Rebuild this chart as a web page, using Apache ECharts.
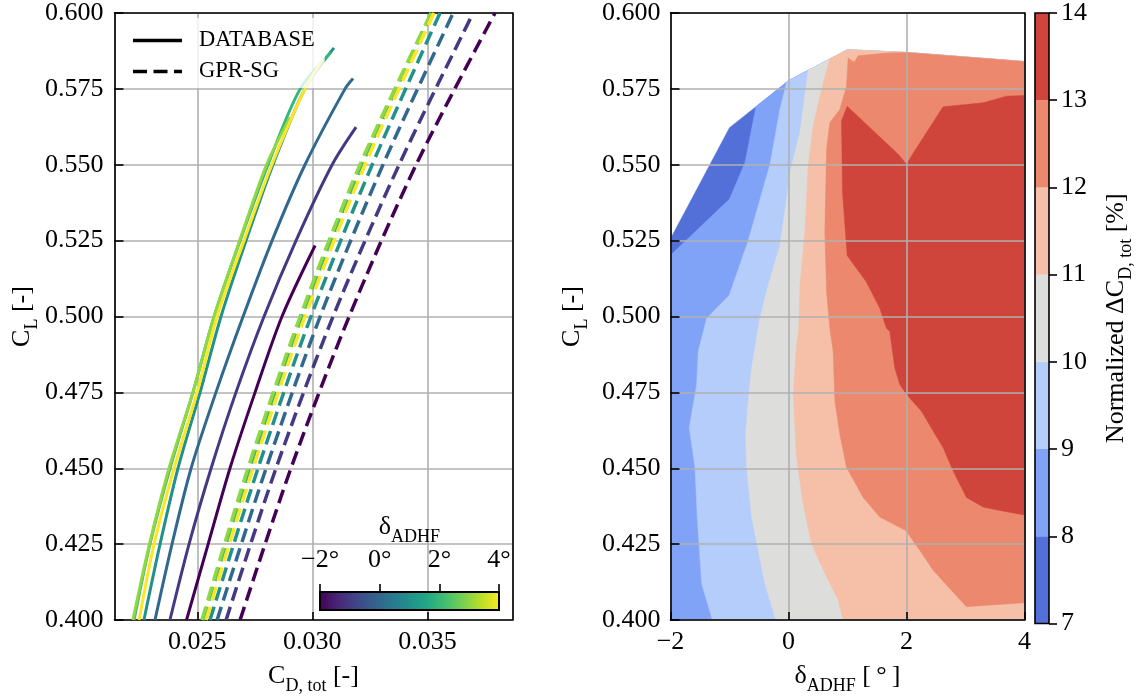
<!DOCTYPE html>
<html>
<head>
<meta charset="utf-8">
<script src="https://cdn.jsdelivr.net/npm/echarts@6/dist/echarts.min.js"></script>
<style>
html, body { margin: 0; padding: 0; background: #fff; }
#chart { width: 1136px; height: 700px; }
</style>
</head>
<body>
<div id="chart"></div>
<script>
const FONT = 'Liberation Serif';

// Flap deflection values and their viridis colours
const deltaValues = [-2, -1, 0, 1, 2, 3, 4];
const deltaColors = ['#440154', '#443983', '#31688E', '#21918C', '#35B779', '#8FD744', '#FDE725'];

// DATABASE polars: [C_D,tot, C_L]
const dbM2 = [[0.02453, 0.400], [0.02547, 0.425], [0.02642, 0.450], [0.02751, 0.475], [0.02868, 0.500], [0.03012, 0.5234]];
const dbM1 = [[0.02381, 0.400], [0.02464, 0.425], [0.02560, 0.450], [0.02668, 0.475], [0.02790, 0.500], [0.02929, 0.525], [0.03086, 0.550], [0.03190, 0.5624]];
const db0  = [[0.02316, 0.400], [0.02390, 0.425], [0.02473, 0.450], [0.02581, 0.475], [0.02699, 0.500], [0.02825, 0.525], [0.02968, 0.550], [0.03142, 0.575], [0.03177, 0.5784]];
const db1  = [[0.02268, 0.400], [0.02338, 0.425], [0.02416, 0.450], [0.02512, 0.475], [0.02603, 0.500], [0.02712, 0.525], [0.02829, 0.550], [0.02968, 0.575], [0.03094, 0.5885]];
const db2  = [[0.02225, 0.400], [0.02294, 0.425], [0.02381, 0.450], [0.02481, 0.475], [0.02573, 0.500], [0.02686, 0.525], [0.02807, 0.550], [0.02947, 0.575], [0.03081, 0.5870]];
const db3  = [[0.02220, 0.400], [0.02292, 0.425], [0.02377, 0.450], [0.02481, 0.475], [0.02573, 0.500], [0.02684, 0.525], [0.02801, 0.550], [0.02903, 0.5656]];
const db4  = [[0.02247, 0.400], [0.02312, 0.425], [0.02399, 0.450], [0.02499, 0.475], [0.02586, 0.500], [0.02703, 0.525], [0.02824, 0.550], [0.02968, 0.575], [0.03045, 0.5846]];
const databaseCurves = [dbM2, dbM1, db0, db1, db2, db3, db4];

// GPR-SG predictions: C_D,tot at these C_L stations
const gprCL  = [0.40, 0.45, 0.50, 0.55, 0.60];
const gprM2  = [0.02686, 0.02907, 0.03160, 0.03451, 0.03794];
const gprM1  = [0.02625, 0.02842, 0.03090, 0.03377, 0.03699];
const gpr0   = [0.02586, 0.02799, 0.03034, 0.03307, 0.03612];
const gpr1   = [0.02555, 0.02764, 0.02994, 0.03260, 0.03555];
const gpr2   = [0.02525, 0.02729, 0.02955, 0.03216, 0.03520];
const gpr3   = [0.02520, 0.02720, 0.02947, 0.03207, 0.03516];
const gpr4   = [0.02538, 0.02742, 0.02968, 0.03229, 0.03529];
const gprCurves = [gprM2, gprM1, gpr0, gpr1, gpr2, gpr3, gpr4];

// Contour map: upper edge of the sampled (delta, C_L) domain
const hullTop = [[-2, 0.5256], [-1, 0.5622], [0, 0.5777], [1, 0.5879], [2, 0.5870], [4, 0.5840]];
// Iso-lines of normalized delta C_D,tot [%], listed as [delta, C_L]
const iso8  = [[-2, 0.5202], [-1.0, 0.5387], [-0.738, 0.5507], [-0.552, 0.5691]];
const iso9  = [[-1.29, 0.400], [-1.472, 0.4120], [-1.546, 0.4339], [-1.585, 0.4503], [-1.682, 0.4634], [-1.556, 0.4776],
               [-1.529, 0.4885], [-1.387, 0.4994], [-1.004, 0.5070], [-0.683, 0.5250], [-0.315, 0.5500], [-0.146, 0.5682], [-0.032, 0.5772]];
const iso10 = [[-0.215, 0.400], [-0.400, 0.4120], [-0.513, 0.4230], [-0.625, 0.4339], [-0.710, 0.4503], [-0.727, 0.4612],
               [-0.683, 0.4721], [-0.625, 0.4830], [-0.540, 0.4929], [-0.484, 0.4994], [-0.344, 0.5103], [-0.146, 0.5234],
               [-0.032, 0.5387], [0.024, 0.5475], [0.193, 0.5606], [0.334, 0.5811]];
const iso11 = [[0.927, 0.400], [0.842, 0.4066], [0.645, 0.4142], [0.391, 0.4251], [0.249, 0.4382], [0.137, 0.4535],
               [0.080, 0.4743], [0.137, 0.4907], [0.176, 0.4961], [0.193, 0.5103], [0.278, 0.5278], [0.334, 0.5496],
               [0.418, 0.5627], [0.560, 0.5748], [0.701, 0.5849]];
const iso12 = [[4, 0.4057], [3.016, 0.4044], [2.451, 0.4164], [2.225, 0.4230], [1.988, 0.4295], [1.548, 0.4339],
               [1.265, 0.4404], [0.984, 0.4503], [0.870, 0.4612], [0.786, 0.4721], [0.757, 0.4885], [0.701, 0.4961],
               [0.645, 0.5082], [0.616, 0.5278], [0.645, 0.5551], [0.701, 0.5639], [0.870, 0.5682], [0.984, 0.5759],
               [1.011, 0.5852], [1.113, 0.5838], [1.180, 0.5859], [1.661, 0.5868]];
const iso13 = [[4, 0.4346], [3.58, 0.4361], [3.3, 0.4372], [3.016, 0.4404], [2.789, 0.4492], [2.62, 0.4568],
               [2.451, 0.4623], [2.254, 0.4688], [2.0, 0.4743], [1.887, 0.4776], [1.802, 0.4830], [1.717, 0.4951],
               [1.661, 0.4961], [1.548, 0.5027], [1.32, 0.5114], [0.994, 0.5201], [0.916, 0.5409], [0.898, 0.5644],
               [0.994, 0.5693], [1.858, 0.5535], [2.0, 0.5502], [2.14, 0.5546], [2.62, 0.5691], [3.3, 0.5704],
               [3.693, 0.5726], [4, 0.5728]];
const contourLevels = [7, 8, 9, 10, 11, 12, 13, 14];
const contourColors = ['#5270D8', '#80A3F8', '#B4CDFA', '#DDDDDC', '#F5C0A7', '#EC886D', '#CF453C'];

const viridisStops = ['#440154', '#482475', '#414487', '#355F8D', '#2A788E', '#21918C', '#22A884', '#44BF70', '#7AD151', '#BDDF26', '#FDE725']
  .map((c, i, a) => ({ offset: i / (a.length - 1), color: c }));

const CD_MIN = 0.0214, CD_MAX = 0.0387;
const CL_MIN = 0.4, CL_MAX = 0.6;
const D_MIN = -2, D_MAX = 4;

// Region where the field is above an iso-line: the iso-line, then the
// domain's upper edge to the right of it, then the lower corners it needs.
function bandPolygon(iso) {
  const start = iso[0], end = iso[iso.length - 1];
  const pts = iso.slice();
  hullTop.forEach(p => { if (p[0] > end[0] + 1e-9) pts.push(p); });
  const onLeft = start[0] <= D_MIN + 1e-9;
  const onBottom = start[1] <= CL_MIN + 1e-9;
  if (onLeft || onBottom) pts.push([D_MAX, CL_MIN]);
  if (onLeft) pts.push([D_MIN, CL_MIN]);
  return pts;
}
const bandPolys = [[[D_MIN, CL_MIN]].concat(hullTop, [[D_MAX, CL_MIN]])]
  .concat([iso8, iso9, iso10, iso11, iso12, iso13].map(bandPolygon));

const rich = {
  m: { fontFamily: FONT, fontSize: 26, color: '#000', padding: [0, 0, 6, 0], verticalAlign: 'bottom' },
  s: { fontFamily: FONT, fontSize: 18, color: '#000', verticalAlign: 'bottom' }
};
const minus = v => (v < 0 ? '\u2212' + Math.abs(v) : String(v));
const black = { color: '#000', width: 1.6 };
const gridLine = { show: true, lineStyle: { color: '#b0b0b0', width: 1.6 } };
const tickFont = { fontFamily: FONT, fontSize: 26, color: '#000' };

function spineAxis(gridIndex, position, z) {
  return {
    type: 'value', gridIndex, position, min: 0, max: 1, z,
    axisLine: { show: true, onZero: false, lineStyle: black },
    axisTick: { show: false }, axisLabel: { show: false }, splitLine: { show: false }
  };
}

const series = [];
deltaValues.forEach((d, i) => {
  series.push({
    type: 'line', name: 'DATABASE', xAxisIndex: 0, yAxisIndex: 0,
    data: databaseCurves[i], symbol: 'none', smooth: 0.3,
    lineStyle: { color: deltaColors[i], width: 3 }, itemStyle: { color: deltaColors[i] }
  });
});
deltaValues.forEach((d, i) => {
  series.push({
    type: 'line', name: 'GPR-SG', xAxisIndex: 0, yAxisIndex: 0,
    data: gprCL.map((cl, k) => [gprCurves[i][k], cl]), symbol: 'none', smooth: 0.3,
    lineStyle: { color: deltaColors[i], width: 3.5, type: [14, 6.5] }, itemStyle: { color: deltaColors[i] }
  });
});

// filled contour bands
series.push({
  type: 'custom', xAxisIndex: 2, yAxisIndex: 2, silent: true, z: 1,
  data: bandPolys.map((p, i) => [p[0][0], p[0][1], i]),
  encode: { x: 0, y: 1 },
  renderItem: (params, api) => {
    const i = api.value(2);
    return {
      type: 'polygon', z2: i,
      shape: { points: bandPolys[i].map(p => api.coord(p)) },
      style: { fill: contourColors[i], stroke: contourColors[i], lineWidth: 0.5 }
    };
  }
});

// discrete colour bar of the contour levels
series.push({
  type: 'custom', xAxisIndex: 4, yAxisIndex: 4, silent: true,
  data: contourColors.map((c, i) => [0, contourLevels[i], contourLevels[i + 1], i]),
  encode: { x: 0, y: [1, 2] },
  renderItem: (params, api) => {
    const a = api.coord([0, api.value(1)]);
    const b = api.coord([1, api.value(2)]);
    return {
      type: 'rect',
      shape: { x: a[0], y: b[1], width: b[0] - a[0], height: a[1] - b[1] },
      style: { fill: contourColors[api.value(3)] }
    };
  }
});
series.push({
  type: 'custom', xAxisIndex: 4, yAxisIndex: 4, silent: true, z: 3,
  data: [[0, contourLevels[0], 1, contourLevels[contourLevels.length - 1]]],
  encode: { x: [0, 2], y: [1, 3] },
  renderItem: (params, api) => {
    const a = api.coord([api.value(0), api.value(1)]);
    const b = api.coord([api.value(2), api.value(3)]);
    return {
      type: 'rect',
      shape: { x: a[0], y: b[1], width: b[0] - a[0], height: a[1] - b[1] },
      style: { fill: 'none', stroke: '#000', lineWidth: 1.6 }
    };
  }
});

// continuous delta colour bar inside the polar panel
series.push({
  type: 'custom', xAxisIndex: 5, yAxisIndex: 5, silent: true, z: 5,
  data: [[D_MIN, 0, D_MAX, 1]],
  encode: { x: [0, 2], y: [1, 3] },
  renderItem: (params, api) => {
    const a = api.coord([api.value(0), api.value(1)]);
    const b = api.coord([api.value(2), api.value(3)]);
    return {
      type: 'rect',
      shape: { x: a[0], y: b[1], width: b[0] - a[0], height: a[1] - b[1] },
      style: { fill: new echarts.graphic.LinearGradient(0, 0, 1, 0, viridisStops), stroke: '#000', lineWidth: 2 }
    };
  }
});

const option = {
  animation: false,
  backgroundColor: '#fff',
  textStyle: { fontFamily: FONT },
  grid: [
    { left: 114.5, top: 13, width: 398, height: 610.5 },
    { left: 670.5, top: 13, width: 354, height: 610.5 },
    { left: 1035, top: 13, width: 17, height: 610.5 },
    { left: 320, top: 592, width: 179, height: 18 }
  ],
  legend: {
    left: 117, top: 18, orient: 'vertical', selectedMode: false,
    padding: [11, 10, 5, 16], itemGap: 8, itemWidth: 49, itemHeight: 3.5,
    backgroundColor: 'rgba(255,255,255,0.8)', borderRadius: 4,
    textStyle: { fontFamily: FONT, fontSize: 22.5, color: '#000', padding: [0, 0, 0, 12] },
    data: [
      { name: 'DATABASE', icon: 'path://M0,0h49v3.5h-49z', itemStyle: { color: '#000' } },
      { name: 'GPR-SG', icon: 'path://M0,0h14v3.5h-14z M20.5,0h14v3.5h-14z M41,0h8v3.5h-8z', itemStyle: { color: '#000' } }
    ]
  },
  xAxis: [
    {
      type: 'value', gridIndex: 0, position: 'bottom', min: CD_MIN, max: CD_MAX,
      splitNumber: 3, minInterval: 0.005, maxInterval: 0.005,
      axisLine: { onZero: false, lineStyle: black },
      axisTick: { inside: true, length: 8, lineStyle: black },
      axisLabel: Object.assign({ margin: 9, showMinLabel: false, showMaxLabel: false, formatter: v => v.toFixed(3) }, tickFont),
      splitLine: gridLine,
      name: '{m|C}{s|D, tot}{m| [-]}', nameLocation: 'middle', nameGap: 43, nameTextStyle: { rich }
    },
    spineAxis(0, 'top', 3),
    {
      type: 'value', gridIndex: 1, position: 'bottom', min: D_MIN, max: D_MAX, interval: 2, z: 5,
      axisLine: { onZero: false, lineStyle: black },
      axisTick: { inside: true, length: 8, lineStyle: black },
      axisLabel: Object.assign({ margin: 9, formatter: minus }, tickFont),
      splitLine: gridLine,
      name: '{m|\u03b4}{s|ADHF}{m| [\u2009\u00b0\u2009]}', nameLocation: 'middle', nameGap: 43, nameTextStyle: { rich }
    },
    spineAxis(1, 'top', 5),
    { type: 'value', gridIndex: 2, min: 0, max: 1, show: false },
    {
      type: 'value', gridIndex: 3, position: 'top', min: D_MIN, max: D_MAX, interval: 2, z: 6,
      axisLine: { show: false, onZero: false },
      axisTick: { inside: false, length: 8, lineStyle: black },
      axisLabel: Object.assign({ margin: 19, formatter: v => minus(v) + '\u00b0' }, tickFont),
      splitLine: { show: false },
      name: '{m|\u03b4}{s|ADHF}', nameLocation: 'middle', nameGap: 46, nameTextStyle: { rich }
    }
  ],
  yAxis: [
    {
      type: 'value', gridIndex: 0, position: 'left', min: CL_MIN, max: CL_MAX, interval: 0.025,
      axisLine: { onZero: false, lineStyle: black },
      axisTick: { inside: true, length: 9, lineStyle: black },
      axisLabel: Object.assign({ margin: 11, formatter: v => v.toFixed(3) }, tickFont),
      splitLine: gridLine,
      name: '{m|C}{s|L}{m| [-]}', nameLocation: 'middle', nameRotate: 90, nameGap: 70, nameTextStyle: { rich }
    },
    spineAxis(0, 'right', 3),
    {
      type: 'value', gridIndex: 1, position: 'left', min: CL_MIN, max: CL_MAX, interval: 0.025, z: 5,
      axisLine: { onZero: false, lineStyle: black },
      axisTick: { inside: true, length: 9, lineStyle: black },
      axisLabel: Object.assign({ margin: 10, formatter: v => v.toFixed(3) }, tickFont),
      splitLine: gridLine,
      name: '{m|C}{s|L}{m| [-]}', nameLocation: 'middle', nameRotate: 90, nameGap: 79, nameTextStyle: { rich }
    },
    spineAxis(1, 'right', 5),
    {
      type: 'value', gridIndex: 2, position: 'right', min: 7, max: 14, interval: 1, z: 4,
      axisLine: { show: false, onZero: false },
      axisTick: { inside: false, length: 8, lineStyle: black },
      axisLabel: Object.assign({ margin: 12 }, tickFont),
      splitLine: { show: false },
      name: '{m|Normalized \u0394C}{s|D, tot}{m| [%]}', nameLocation: 'middle', nameRotate: 90, nameGap: 54,
      nameTextStyle: { rich }
    },
    { type: 'value', gridIndex: 3, min: 0, max: 1, show: false }
  ],
  series
};

const chart = echarts.init(document.getElementById('chart'), null, { renderer: 'canvas' });
chart.setOption(option);
</script>
</body>
</html>
